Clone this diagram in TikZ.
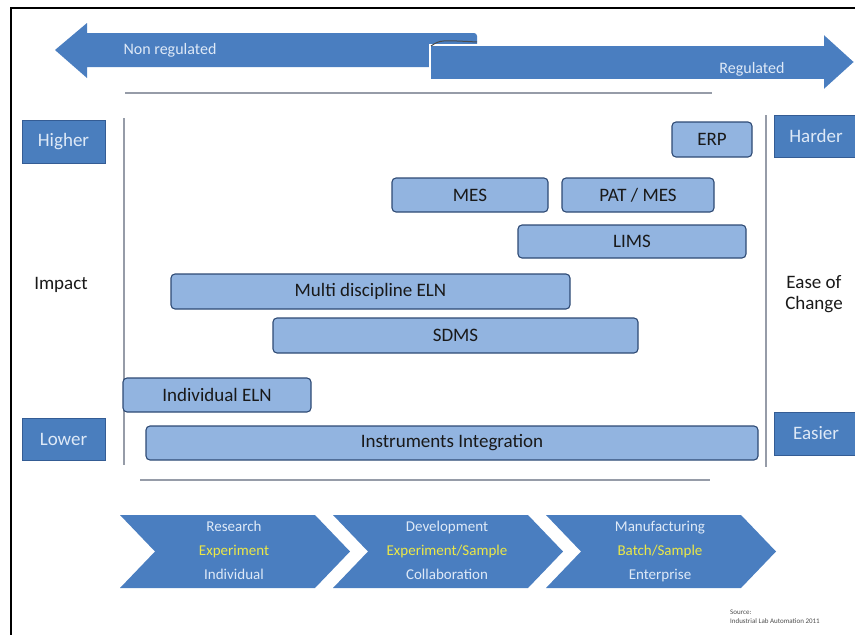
\documentclass[tikz,border=0pt]{standalone}
\usepackage{fontspec}
\setmainfont{Carlito}
\definecolor{arrowblue}{RGB}{74,126,192}
\definecolor{tagblue}{RGB}{74,126,190}
\definecolor{tagedge}{RGB}{52,92,148}
\definecolor{tagtext}{RGB}{222,233,247}
\definecolor{barfill}{RGB}{146,180,224}
\definecolor{baredge}{RGB}{46,74,116}
\definecolor{axisgrey}{RGB}{150,156,168}
\definecolor{stageyellow}{RGB}{236,232,70}
\begin{document}
\begin{tikzpicture}[x=1pt, y=-1pt,
   bar/.style={draw=baredge, fill=barfill, line width=1.1pt, rounded corners=4pt,
     inner sep=0pt, text=black!90, font=\fontsize{19}{21}\selectfont},
   tag/.style={draw=tagedge, fill=tagblue, inner sep=0pt, minimum width=83,
     text=tagtext, font=\fontsize{19}{21}\selectfont},
   axislabel/.style={text=black!90, align=center, font=\fontsize{19}{21}\selectfont},
   axisline/.style={draw=axisgrey, line width=1.3pt}]%
   % Page: 855 x 635 px, y grows downwards
   \useasboundingbox (0,0) rectangle (855,635);
   \draw[line width=1.4pt] (11,635) -- (11,8) -- (855,8);

   % Regulation arrows
   \fill[arrowblue] (55,50) -- (87,23) -- (87,33) -- (470,33)
     [rounded corners=3pt] -- (477,33) -- (477,67) [sharp corners] -- (87,67) -- (87,78) -- cycle;
   \draw[white, line width=1.6pt, fill=arrowblue] (430,80) -- (430,45) -- (823,45) -- (823,33)
     -- (855,62) -- (823,91) -- (823,80) -- cycle;
   \draw[black!70, line width=1pt] (431,46) .. controls (440,40) .. (477,42);
   \node[text=tagtext, font=\fontsize{16}{18}\selectfont] (nonreg) at (170,50) {Non regulated};
   \node[text=tagtext, font=\fontsize{16}{18}\selectfont] (reg) at (752,69) {Regulated};

   % Frame of the chart
   \coordinate (topL) at (125,93);
   \coordinate (topR) at (712,93);
   \coordinate (botL) at (140,480);
   \coordinate (botR) at (710,480);
   \coordinate (impTop) at (124,118);
   \coordinate (impBot) at (124,465);
   \coordinate (easeTop) at (766,115);
   \coordinate (easeBot) at (766,467);
   \draw[axisline] (topL) -- (topR);
   \draw[axisline] (botL) -- (botR);
   \draw[axisline] (impTop) -- (impBot);
   \draw[axisline] (easeTop) -- (easeBot);

   % Scales
   \node[tag, minimum height=43] (higher) at (63.5,141.5) {Higher};
   \node[tag, minimum height=42] (lower) at (63.5,439) {Lower};
   \node[axislabel] (impact) at (61,285) {Impact};
   \node[tag, minimum height=42] (harder) at (816,136) {Harder};
   \node[tag, minimum height=43] (easier) at (816,433.5) {Easier};
   \node[axislabel, text depth=0pt] (ease) at (814,292) {Ease of\\Change};

   % Systems
   \node[bar, minimum width=80, minimum height=35] (erp) at (712,139.5) {ERP};
   \node[bar, minimum width=156, minimum height=34] (mes) at (470,195) {MES};
   \node[bar, minimum width=152, minimum height=34] (patmes) at (638,195) {PAT / MES};
   \node[bar, minimum width=228, minimum height=33] (lims) at (632,241.5) {LIMS};
   \node[bar, minimum width=399, minimum height=35] (meln) at (370.5,291.5) {Multi discipline ELN};
   \node[bar, minimum width=365, minimum height=35] (sdms) at (455.5,335.5) {SDMS};
   \node[bar, minimum width=188, minimum height=34] (ieln) at (217,395) {Individual ELN};
   \node[bar, minimum width=612, minimum height=34] (instr) at (452,443) {Instruments Integration};

   % Stages
   \foreach \x/\top/\mid/\bot/\n in {120/Research/Experiment/Individual/res,
       333/Development/Experiment\slash Sample/Collaboration/dev,
       546/Manufacturing/Batch\slash Sample/Enterprise/man} {
     \fill[arrowblue] (\x,515) -- (\x+195,515) -- (\x+230,551.5) -- (\x+195,588)
       -- (\x,588) -- (\x+35,551.5) -- cycle;
     \node[text=tagtext, align=center, inner sep=0pt, font=\fontsize{15}{24}\selectfont] (stage\n)
       at (\x+114,551) {\strut\top\\\textcolor{stageyellow}{\mid}\\\bot\strut};
   }

   % Source
   \node[anchor=north west, align=left, inner sep=0pt, text=black!70,
     font=\fontsize{7}{9}\selectfont] (source) at (730,610) {Source:\\Industrial Lab Automation 2011};
 \end{tikzpicture}
\end{document}
